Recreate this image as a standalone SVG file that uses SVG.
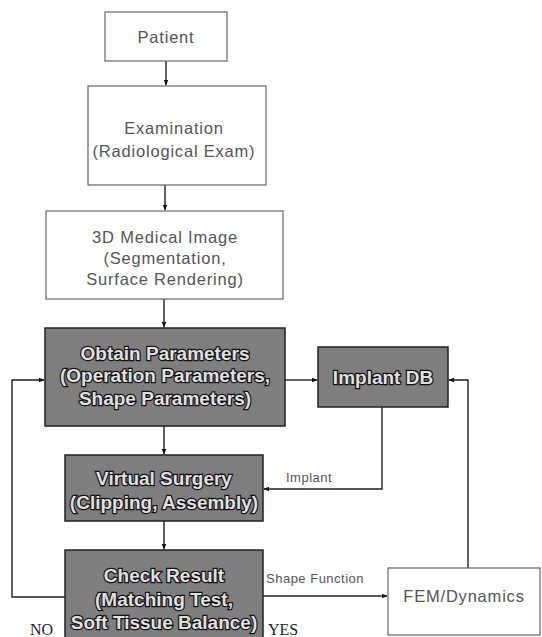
<svg xmlns="http://www.w3.org/2000/svg" width="542" height="637" viewBox="0 0 542 637">
<defs>
<marker id="ah" viewBox="0 0 10 10" refX="9" refY="5" markerWidth="6" markerHeight="6" orient="auto" markerUnits="userSpaceOnUse">
<path d="M0,1 L10,5 L0,9 z" fill="#111"/>
</marker>
</defs>
<style>
.wb{fill:#fff;stroke:#666;stroke-width:1.2}
.db{fill:#7e7e7e;stroke:#222;stroke-width:1.5}
.t{font-family:"Liberation Sans",Arial,sans-serif;font-size:16.5px;fill:#555;text-anchor:middle;letter-spacing:0.8px}
.tb{font-family:"Liberation Sans",Arial,sans-serif;font-size:19px;font-weight:bold;fill:#e0e0e0;stroke:#111;stroke-width:2.4;paint-order:stroke;text-anchor:middle}
.lb{font-family:"Liberation Sans",Arial,sans-serif;font-size:13px;fill:#555;letter-spacing:0.5px}
.yn{font-family:"Liberation Serif",serif;font-size:16px;fill:#222}
.c{fill:none;stroke:#222;stroke-width:1.4}
</style>
<g id="connectors">
<path class="c" d="M166,61 V85" marker-end="url(#ah)"/>
<path class="c" d="M165,185 V210" marker-end="url(#ah)"/>
<path class="c" d="M164,299 V327" marker-end="url(#ah)"/>
<path class="c" d="M285,380 H317" marker-end="url(#ah)"/>
<path class="c" d="M164,426 V454" marker-end="url(#ah)"/>
<path class="c" d="M382,407 V489 H264" marker-end="url(#ah)"/>
<path class="c" d="M164,521 V549" marker-end="url(#ah)"/>
<path class="c" d="M263,596 H387" marker-end="url(#ah)"/>
<path class="c" d="M65,597 H12 V380 H44" marker-end="url(#ah)"/>
<path class="c" d="M468,568 V380 H449" marker-end="url(#ah)"/>
<text class="lb" x="286" y="482">Implant</text>
<text class="lb" x="266" y="583">Shape Function</text>
</g>
<g id="patient">
<rect class="wb" x="105" y="12" width="122" height="49"/>
<text class="t" x="166" y="43">Patient</text>
</g>
<g id="examination">
<rect class="wb" x="88" y="86" width="178" height="99"/>
<text class="t" x="174" y="134">Examination</text>
<text class="t" x="174" y="157">(Radiological Exam)</text>
</g>
<g id="medical-image">
<rect class="wb" x="46" y="211" width="237" height="88"/>
<text class="t" x="165" y="243">3D Medical Image</text>
<text class="t" x="165" y="264">(Segmentation,</text>
<text class="t" x="165" y="285">Surface Rendering)</text>
</g>
<g id="obtain-parameters">
<rect class="db" x="45" y="328" width="240" height="98"/>
<text class="tb" x="165" y="360">Obtain Parameters</text>
<text class="tb" x="165" y="382">(Operation Parameters,</text>
<text class="tb" x="165" y="405">Shape Parameters)</text>
</g>
<g id="implant-db">
<rect class="db" x="318" y="347" width="130" height="60"/>
<text class="tb" x="383" y="384">Implant DB</text>
</g>
<g id="virtual-surgery">
<rect class="db" x="65" y="455" width="198" height="66"/>
<text class="tb" x="164" y="485">Virtual Surgery</text>
<text class="tb" x="164" y="509">(Clipping, Assembly)</text>
</g>
<g id="check-result">
<rect class="db" x="65" y="550" width="198" height="92"/>
<text class="tb" x="164" y="582">Check Result</text>
<text class="tb" x="164" y="606">(Matching Test,</text>
<text class="tb" x="164" y="629">Soft Tissue Balance)</text>
</g>
<g id="fem">
<rect class="wb" x="388" y="568" width="152" height="67"/>
<text class="t" x="464" y="602">FEM/Dynamics</text>
</g>
<text class="yn" x="30" y="635">NO</text>
<text class="yn" x="268" y="635">YES</text>
</svg>
